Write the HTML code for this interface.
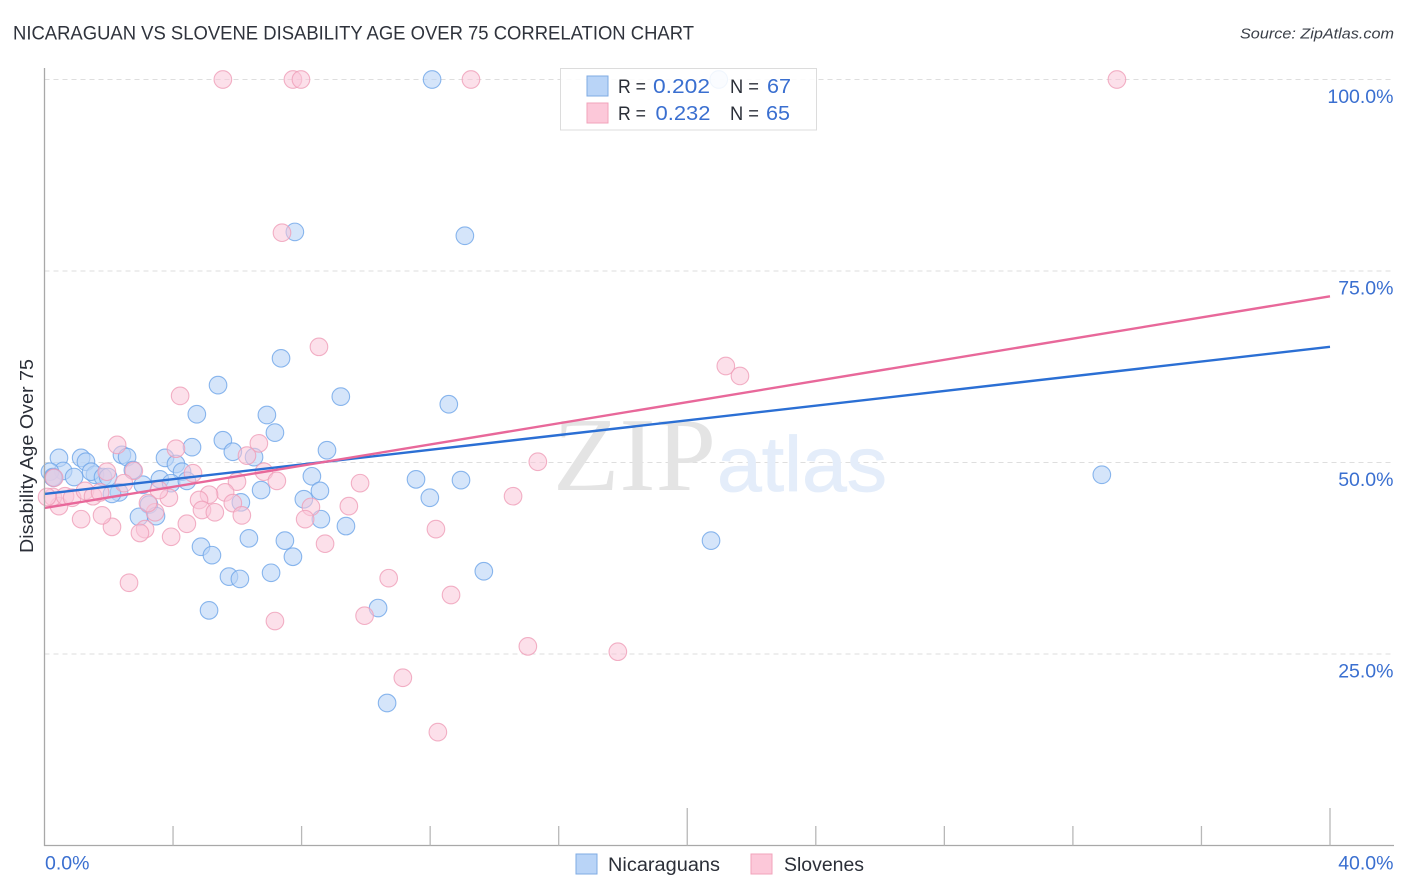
<!DOCTYPE html>
<html lang="en">
<head>
<meta charset="utf-8">
<title>Nicaraguan vs Slovene Disability Age Over 75 Correlation Chart</title>
<style>
html,body{margin:0;padding:0;background:#fff;width:1406px;height:892px;overflow:hidden}
svg{display:block;font-family:"Liberation Sans",sans-serif}
</style>
</head>
<body>
<svg id="chart" width="1406" height="892" viewBox="0 0 1406 892" xmlns="http://www.w3.org/2000/svg">
  <rect x="0" y="0" width="1406" height="892" fill="#fff"/>
  <text x="13" y="39.5" font-size="19.5" fill="#2f333c" textLength="681" lengthAdjust="spacingAndGlyphs">NICARAGUAN VS SLOVENE DISABILITY AGE OVER 75 CORRELATION CHART</text>
  <text x="1394" y="38.5" font-size="15" font-style="italic" fill="#3a3f48" text-anchor="end" textLength="154" lengthAdjust="spacingAndGlyphs">Source: ZipAtlas.com</text>

  <g id="grid"></g>

  <g>
    <text x="553" y="490" font-family="'Liberation Serif',serif" font-size="105" fill="#e4e4e4" textLength="163" lengthAdjust="spacingAndGlyphs">ZIP</text>
    <text x="717" y="491" font-size="78" fill="#e4edfa" stroke="#e4edfa" stroke-width="0.8" textLength="170" lengthAdjust="spacingAndGlyphs">atlas</text>
  </g>

  <g id="points-blue"></g>
  <g id="points-pink"></g>
  <g id="lines"></g>
  <g id="axes"></g>
  <g id="ticklabels"></g>

  <text transform="translate(33,553) rotate(-90)" font-size="18" fill="#2b2f38" textLength="194" lengthAdjust="spacingAndGlyphs">Disability Age Over 75</text>

  <g>
    <rect x="560.5" y="68.5" width="256" height="61.5" fill="#fff" fill-opacity="0.88" stroke="#dcdcdc" stroke-width="1"/>
    <rect x="587" y="76" width="21" height="20" fill="#b9d4f7" stroke="#7fabe3" stroke-width="1"/>
    <rect x="587" y="103" width="21" height="20" fill="#fcc8d9" stroke="#f2a3bb" stroke-width="1"/>
    <text x="618" y="93" font-size="19.5" fill="#2b2f38" textLength="28" lengthAdjust="spacingAndGlyphs">R =</text>
    <text x="653" y="93" font-size="20.5" fill="#3a6fd0" textLength="57" lengthAdjust="spacingAndGlyphs">0.202</text>
    <text x="730" y="93" font-size="19.5" fill="#2b2f38" textLength="29" lengthAdjust="spacingAndGlyphs">N =</text>
    <text x="767" y="93" font-size="20.5" fill="#3a6fd0" textLength="24" lengthAdjust="spacingAndGlyphs">67</text>
    <text x="618" y="120" font-size="19.5" fill="#2b2f38" textLength="28" lengthAdjust="spacingAndGlyphs">R =</text>
    <text x="655.5" y="120" font-size="20.5" fill="#3a6fd0" textLength="55" lengthAdjust="spacingAndGlyphs">0.232</text>
    <text x="730" y="120" font-size="19.5" fill="#2b2f38" textLength="29" lengthAdjust="spacingAndGlyphs">N =</text>
    <text x="766" y="120" font-size="20.5" fill="#3a6fd0" textLength="24" lengthAdjust="spacingAndGlyphs">65</text>
  </g>

  <g>
    <rect x="576" y="854" width="21" height="20" fill="#b9d4f7" stroke="#7fabe3" stroke-width="1"/>
    <text x="608" y="871" font-size="19" fill="#2b2f38" textLength="112" lengthAdjust="spacingAndGlyphs">Nicaraguans</text>
    <rect x="751" y="854" width="21" height="20" fill="#fcc8d9" stroke="#f2a3bb" stroke-width="1"/>
    <text x="784" y="871" font-size="19" fill="#2b2f38" textLength="80" lengthAdjust="spacingAndGlyphs">Slovenes</text>
  </g>
</svg>
<script>
// Chart data (x: percent, y: disability age over 75 percent)
var nicaraguansX = [12.06,20.98,7.79,13.08,7.36,5.40,9.22,12.58,4.74,6.92,7.17,5.55,4.59,5.86,8.79,6.52,0.45,1.14,1.29,2.41,2.57,3.75,4.09,4.28,0.58,0.17,0.26,0.92,1.57,1.45,1.82,1.98,2.75,3.59,3.06,3.94,4.43,11.56,12.96,32.90,8.32,8.57,8.07,11.99,6.74,6.11,2.32,2.10,3.25,3.47,2.94,8.60,9.38,6.36,7.48,7.73,4.87,5.21,13.67,7.05,5.74,6.08,5.12,10.38,10.66,20.74,0.28];
var nicaraguansY = [100,100,80.1,79.6,63.6,60.1,58.6,57.6,56.3,56.2,53.9,52.9,52.0,51.4,51.6,50.7,50.6,50.6,50.1,51.0,50.7,50.6,49.8,48.8,48.9,48.8,48.1,48.1,48.4,48.8,48.1,48.1,49.0,47.8,47.1,47.3,47.6,47.8,47.7,48.4,48.2,46.3,45.2,45.4,46.4,44.8,46.1,45.9,44.5,43.0,42.9,42.6,41.7,40.1,39.8,37.7,39.0,37.9,35.8,35.6,35.1,34.8,30.7,31.0,18.6,39.8,48.0];
var slovenesX = [5.55,7.73,7.98,13.27,33.37,7.39,8.54,21.20,21.64,4.22,15.35,14.58,9.82,9.47,12.18,10.71,12.65,9.96,15.04,17.84,11.15,12.24,7.17,2.63,8.73,2.26,4.09,6.67,6.30,1.94,2.78,2.47,4.62,6.83,7.23,5.99,5.62,5.12,4.81,5.86,3.87,3.56,4.90,5.30,6.14,4.43,8.29,8.11,3.94,3.13,2.97,2.10,1.79,1.14,0.45,0.26,0.64,0.86,1.26,1.51,1.73,3.44,3.22,0.30,0.08];
var slovenesY = [100,100,100,100,100,80.0,65.1,62.6,61.3,58.7,50.1,45.6,47.3,44.3,41.3,34.9,32.7,30.0,26.0,25.3,21.9,14.8,29.3,34.3,39.4,52.3,51.8,52.5,50.9,48.8,48.9,47.3,48.6,48.8,47.6,47.5,46.1,45.8,45.1,44.7,45.4,46.4,43.8,43.5,43.1,42.0,44.2,42.6,40.3,41.3,40.8,41.6,43.1,42.6,44.3,45.5,45.6,45.4,46.3,45.6,46.1,43.5,44.7,48.0,45.5];
var trendX = [0, 40];
var nicaraguansTrend = [45.9, 65.1];
var slovenesTrend = [44.06, 71.7];
var yTicks = [25, 50, 75, 100];
var yTickLabels = ["25.0%", "50.0%", "75.0%", "100.0%"];
var xTicks = [0, 4, 8, 12, 16, 20, 24, 28, 32, 36, 40];
var xTickLabels = ["0.0%", "40.0%"];

var NS = "http://www.w3.org/2000/svg";
function sx(v){ return 44.5 + v * (1330 - 44.5) / 40; }
function sy(v){ return 845.5 - v * 7.66; }
function mk(parent, tag, attrs){
  var el = document.createElementNS(NS, tag);
  for (var k in attrs) el.setAttribute(k, attrs[k]);
  parent.appendChild(el);
  return el;
}

var grid = document.getElementById("grid");
yTicks.forEach(function(t){
  var g = mk(grid, "line", {x1:44.5, x2:1394, y1:sy(t), y2:sy(t), stroke:"#dedede", "stroke-width":1, "stroke-dasharray":"5 4"});
  
  
});

function drawPoints(groupId, xs, ys, fill, fillOpacity, stroke, strokeOpacity){
  var group = document.getElementById(groupId);
  for (var i = 0; i < xs.length; i++){
    var c = mk(group, "circle", {cx:sx(xs[i]), cy:sy(ys[i]), r:8.8, fill:fill, "fill-opacity":fillOpacity, stroke:stroke, "stroke-opacity":strokeOpacity, "stroke-width":1.1});
    
    
  }
}
drawPoints("points-blue", nicaraguansX, nicaraguansY, "#b9d4f7", 0.6, "#6ea5e8", 0.8);
drawPoints("points-pink", slovenesX, slovenesY, "#fac6d8", 0.55, "#ef9db8", 0.8);

var lines = document.getElementById("lines");
var blueLine = mk(lines, "line", {x1:sx(trendX[0]), y1:sy(nicaraguansTrend[0]), x2:sx(trendX[1]), y2:sy(nicaraguansTrend[1]), stroke:"#2b6fd4", "stroke-width":2.4});


var pinkLine = mk(lines, "line", {x1:sx(trendX[0]), y1:sy(slovenesTrend[0]), x2:sx(trendX[1]), y2:sy(slovenesTrend[1]), stroke:"#e8689a", "stroke-width":2.4});



var axes = document.getElementById("axes");
var yAxis = mk(axes, "line", {x1:44.5, x2:44.5, y1:68, y2:846, stroke:"#a8a8a8", "stroke-width":1.3});


var xAxis = mk(axes, "line", {x1:44, x2:1394, y1:845.5, y2:845.5, stroke:"#a8a8a8", "stroke-width":1.3});


xTicks.forEach(function(t){
  if (t === 0) return;
  var major = t % 20 === 0;
  var tick = mk(axes, "line", {x1:sx(t), x2:sx(t), y1:major ? 808 : 826, y2:845.5, stroke:"#b8b8b8", "stroke-width":1.3});
  
  
});

var labels = document.getElementById("ticklabels");
yTicks.forEach(function(t, i){
  var tx = mk(labels, "text", {x:1393.5, y:sy(t) + 23.5, "font-size":19.5, fill:"#3a6fd0", "text-anchor":"end"});
  
  
  tx.textContent = yTickLabels[i];
});
var x0 = mk(labels, "text", {x:45, y:869.5, "font-size":19.5, fill:"#3a6fd0"});


x0.textContent = xTickLabels[0];
var x1 = mk(labels, "text", {x:1393.5, y:869.5, "font-size":19.5, fill:"#3a6fd0", "text-anchor":"end"});


x1.textContent = xTickLabels[1];
</script>
</body>
</html>
